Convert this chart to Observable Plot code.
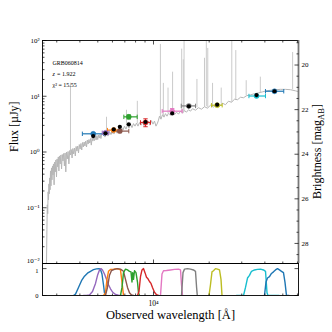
<!DOCTYPE html>
<html><head><meta charset="utf-8">
<script src="https://cdn.jsdelivr.net/npm/d3@7"></script>
<script src="https://cdn.jsdelivr.net/npm/@observablehq/plot@0.6"></script>
<style>
body{margin:0;background:#fff;}
#wrap{position:relative;width:332px;height:332px;overflow:hidden;}
#wrap svg{position:absolute;left:0;overflow:visible;}
</style></head><body><div id="wrap"></div>
<script>
// ---------- data ----------
const specWave = [2500,2641,2654,2667,2681,2694,2707,2720,2734,2747,2761,2775,2792,2810,2827,2845,2862,2880,2902,2923,2945,2967,2990,3012,3035,3058,3081,3103,3130,3157,3185,3213,3241,3270,3299,3327,3357,3386,3420,3454,3489,3524,3559,3594,3630,3666,3703,3742,3779,3817,3855,3894,3933,3972,4012,4052,4093,4134,4175,4217,4259,4301,4345,4388,4432,4477,4521,4566,4612,4658,4705,4752,4799,4847,4896,4945,4994,5044,5094,5145,5197,5249,5366,5467,5570,5675,5782,5891,6003,6116,6232,6349,6469,6591,6714,6841,6970,7101,7236,7372,7511,7652,7797,7944,8093,8245,8401,8559,8720,8884,9052,9222,9397,9573,9754,9937,10125,10316,10510,10642,10776,10978,11186,11397,11613,11831,12053,12357,12669,12988,13316,13651,13996,14349,14711,15082,15462,15852,16252,16866,17503,18174,18866,19579,20325,21100,21900,22743,23605,24503,25430,26398,27403,28453,29534,30660,31822,33447,35154,36950,38836,40818,42901,45645,48584,51700,55020,58560,62330];
const specFlux = [0.001,0.0109,0.0405,0.113,0.0781,0.193,0.139,0.268,0.178,0.343,0.21,0.458,0.247,0.518,0.316,0.562,0.388,0.611,0.2575,0.662,0.44,0.72,0.358,0.75,0.54,0.815,0.458,0.849,0.611,0.884,0.497,0.902,0.69,0.94,0.562,0.96,0.44,1.0,0.75,1.021,0.611,1.063,0.884,1.108,0.782,1.155,0.921,1.178,0.849,1.256,1.04,1.28,0.96,1.36,1.13,1.419,1.086,1.479,1.23,1.51,1.28,1.57,1.23,1.64,1.39,1.671,1.449,1.742,1.33,1.815,1.57,1.853,1.604,1.93,1.64,1.972,1.671,2.01,1.778,2.054,1.742,2.10,2.14,1.853,2.229,1.93,2.323,2.054,2.42,2.10,2.52,2.18,2.683,2.323,2.796,2.47,2.91,2.577,3.035,2.683,3.162,2.74,3.23,2.91,3.30,2.91,3.37,3.03,3.43,2.97,3.51,3.16,3.58,3.03,3.65,3.16,3.58,2.91,3.30,3.73,4.39,3.88,4.67,4.22,4.87,4.39,4.97,4.58,5.07,4.67,5.18,4.77,5.40,4.97,5.51,5.18,5.74,5.40,5.98,5.62,6.23,5.86,6.49,6.11,6.90,6.36,7.20,6.63,7.50,7.05,8.14,7.81,8.84,8.66,9.60,9.40,10.2,10.6,11.1,11.5,12.0,12.5,12.8,13.1,13.3,13.3,13.1,12.5,11.8];

const lineWave = [3559,5572,7144,8176,10900,11305,11983,12682,14204,14490,14630,17170,18866,19300,19650,20851,23230,26500,27850,31700,37800,56500];
const lineBase = [1.0,2.05,2.9,3.2,3.9,4.3,4.9,5.0,5.2,5.3,5.3,6.2,6.4,6.5,6.2,6.6,7.3,7.8,8.7,10.2,11.7,13.1];
const linePeak = [17.1,4.2,5.6,8.1,85,17,14,27,70,45,150,20,48,150,72,17,14,150,66,19,22,61];

const photColor = ["#1f77b4","#9467bd","#ff7f0e","#8c564b","#2ca02c","#d62728","#e377c2","#7f7f7f","#bcbd22","#17becf","#1f77b4"];
const photWave = [4722,5503,6097,6577,7352,9053,12624,15525,22090,36059,45100];
const photLo   = [4125,5285,5640,5981,6915,8505,11144,14124,20577,32800,40300];
const photHi   = [5386,5735,6553,7354,8164,9634,14298,16870,23513,40300,50600];
const photFlux = [2.12,2.21,2.47,2.37,4.27,3.39,5.40,6.71,6.90,10.1,12.3];
const photErr  = [0.1,0.1,0.12,0.15,0.35,0.55,0.6,0.25,0.3,0.3,0.4];
const modelFlux= [1.93,2.16,2.54,2.83,3.13,3.45,4.91,6.6,7.05,10.5,12.3];

const fBlue   = [[3694,0],[3788,0.05],[3932,0.3],[4082,0.55],[4236,0.72],[4397,0.83],[4566,0.9],[4739,0.96],[4919,0.99],[5074,1.0],[5170,0.97],[5267,0.8],[5366,0.4],[5433,0.1],[5501,0]];
const fPurple = [[4183,0],[4343,0],[4509,0.02],[4681,0.15],[4859,0.45],[4983,0.75],[5106,0.95],[5202,1.0],[5300,0.95],[5433,0.8],[5570,0.6],[5711,0.4],[5855,0.25],[6003,0.13],[6232,0.04],[6469,0.01],[6714,0]];
const fOrange = [[5366,0],[5501,0.1],[5605,0.6],[5711,0.9],[5855,0.97],[6078,0.98],[6310,1.0],[6549,0.97],[6631,0.95],[6758,0.5],[6884,0]];
const fBrown  = [[5501,0],[5640,0.3],[5782,0.75],[5929,0.93],[6153,0.97],[6389,1.0],[6631,0.98],[6884,0.9],[7058,0.6],[7236,0.3],[7418,0.1],[7605,0.02],[7797,0]];
const fGreen  = [[6631,0],[6758,0.3],[6884,0.85],[7058,0.98],[7236,0.95],[7418,0.9],[7557,0.88],[7651,0.5],[7718,0.85],[7797,0.6],[7894,0.92],[8043,0.85],[8194,0.5],[8297,0.1],[8401,0]];
const fRed    = [[8194,0],[8349,0.15],[8506,0.7],[8666,0.95],[8829,1.0],[8996,0.85],[9166,0.68],[9338,0.62],[9514,0.52],[9694,0.45],[9876,0.3],[10125,0.12],[10380,0.03],[10642,0]];
const fPink   = [[10910,0],[11116,0.8],[11327,0.92],[11755,0.93],[12357,0.95],[12988,0.97],[13651,0.98],[13996,0.95],[14171,0.4],[14350,0]];
const fGray   = [[14171,0],[14440,0.85],[14711,0.98],[15270,1.0],[15849,0.98],[16449,0.95],[16866,0.9],[17100,0.3],[17250,0]];
const fOlive  = [[19953,0],[20325,0.4],[20710,0.88],[21100,0.92],[21633,1.0],[22180,0.98],[22743,0.95],[23171,0.6],[23460,0]];
const fCyan   = [[28093,0],[30660,0],[31431,0.3],[32222,0.65],[33032,0.75],[33864,0.9],[35154,0.95],[36495,0.97],[37880,0.98],[39324,0.95],[40318,0.9],[41077,0.1],[41590,0],[47744,0]];
const fBlue2  = [[39811,0],[40563,0.5],[41326,0.65],[42364,0.7],[43427,0.82],[44522,0.88],[45645,0.95],[46796,1.0],[47975,0.95],[49185,0.9],[50424,0.85],[51372,0.5],[52340,0],[53993,0]];
const filterCurves = [fBlue,fPurple,fOrange,fBrown,fGreen,fRed,fPink,fGray,fOlive,fCyan,fBlue2];

const xDomain = [2512, 60790];
const yDomain = [0.01, 100];
const yMajorTicks = [0.01, 0.1, 1, 10, 100];
const yTickLabels = ["10⁻²","10⁻¹","10⁰","10¹","10²"];
const xMinorTicks = [3000,4000,5000,6000,7000,8000,9000,20000,30000,40000,50000,60000];
const xMajorTicks = [10000];
const xTickLabels = ["10⁴"];
const magTicks = [20,22,24,26,28];
const transTicks = [0, 1];
const ABzero = 23.9;

// ---------- derived tables ----------
const spec = specWave.map((w,i)=>({w, f: specFlux[i]}));
const lines = lineWave.map((w,i)=>({w, b: lineBase[i], p: linePeak[i]}));
const phot = photWave.map((w,i)=>({w, lo: photLo[i], hi: photHi[i], f: photFlux[i], e: photErr[i], m: modelFlux[i], c: photColor[i]}));
const yLab = yMajorTicks.map((v,i)=>({v, t: yTickLabels[i]}));
const yMinorTicks = [];
for (const d of [0.01,0.1,1,10]) for (let k=2;k<=9;k++) yMinorTicks.push(d*k);
const magToFlux = m => Math.pow(10, (ABzero - m)/2.5);
const magMinor = [];
for (let m=19; m<=28.5; m+=0.5) if (!magTicks.includes(m)) magMinor.push(m);

const tk = (dx, dy) => ({draw(c){ c.moveTo(0,0); c.lineTo(dx,dy); }});
const capV = {draw(c){ c.moveTo(0,-2.2); c.lineTo(0,2.2); }};
const capH = {draw(c){ c.moveTo(-2.2,0); c.lineTo(2.2,0); }};
const ticksY = (vals, at, dx) => Plot.dot(vals, {x: ()=>at, y: d=>d, symbol: tk(dx,0), fill:"none", stroke:"black", strokeWidth:0.7});
const ticksX = (vals, at, dy) => Plot.dot(vals, {x: d=>d, y: ()=>at, symbol: tk(0,dy), fill:"none", stroke:"black", strokeWidth:0.7});
const FONT = "'Liberation Serif', 'DejaVu Serif', serif";
const TXT = {fill: "black", stroke: "none"};

// ---------- main panel ----------
const main = Plot.plot({
  width: 332, height: 264,
  marginTop: 40, marginBottom: 1, marginLeft: 42, marginRight: 34,
  style: {fontFamily: FONT, background: "transparent", color: "black"},
  x: {type: "log", domain: xDomain, axis: null},
  y: {type: "log", domain: yDomain, axis: null},
  marks: [
    Plot.ruleX(lines, {x: "w", y1: "b", y2: "p", stroke: "#c4c4c4", strokeWidth: 0.9, clip: true}),
    Plot.line(spec, {x: "w", y: "f", stroke: "#b6b6b6", strokeWidth: 1, clip: true}),
    Plot.link(phot, {x1: "lo", x2: "hi", y1: "f", y2: "f", stroke: "c", strokeWidth: 1.2}),
    Plot.link(phot, {x1: "w", x2: "w", y1: d=>d.f-d.e, y2: d=>d.f+d.e, stroke: "c", strokeWidth: 1.2}),
    Plot.dot(phot, {x: "lo", y: "f", symbol: capV, fill: "none", stroke: "c", strokeWidth: 1}),
    Plot.dot(phot, {x: "hi", y: "f", symbol: capV, fill: "none", stroke: "c", strokeWidth: 1}),
    Plot.dot(phot, {x: "w", y: d=>d.f-d.e, symbol: capH, fill: "none", stroke: "c", strokeWidth: 1}),
    Plot.dot(phot, {x: "w", y: d=>d.f+d.e, symbol: capH, fill: "none", stroke: "c", strokeWidth: 1}),
    Plot.dot(phot, {x: "w", y: "f", r: 2.5, fill: "c", stroke: "c", strokeWidth: 0.5}),
    Plot.dot(phot, {x: "w", y: "m", r: 2.1, fill: "black", stroke: "none"}),
    Plot.frame({stroke: "black", strokeWidth: 0.9}),
    Plot.ruleX([xDomain[1]], {stroke: "#777", strokeWidth: 1.8}),
    ticksY(yMajorTicks, xDomain[0], 4),
    ticksY(yMinorTicks, xDomain[0], 2),
    ticksY(magTicks.map(magToFlux), xDomain[1], -4),
    ticksY(magMinor.map(magToFlux), xDomain[1], -2),
    ticksX(xMajorTicks, yDomain[1], 4),
    ticksX(xMinorTicks, yDomain[1], 2),
    ticksX(xMajorTicks, yDomain[0], -4),
    ticksX(xMinorTicks, yDomain[0], -2),
    // tick labels (lowest one nudged up to clear the lower panel's label)
    Plot.text(yLab.slice(1), {...TXT, x: ()=>xDomain[0], y: "v", text: "t", dx: -3, textAnchor: "end", fontSize: 7}),
    Plot.text(yLab.slice(0,1), {...TXT, x: ()=>xDomain[0], y: "v", text: "t", dx: -3, dy: -2.5, textAnchor: "end", fontSize: 7}),
    Plot.text(magTicks, {...TXT, x: ()=>xDomain[1], y: m=>magToFlux(m), text: m=>String(m), dx: 3, textAnchor: "start", fontSize: 7}),
    // axis label & annotations
    Plot.text(["Flux [µJy]"], {...TXT, text: d=>d, frameAnchor: "left", dx: -28, rotate: -90, fontSize: 12}),
    Plot.text(["GRB060814"], {...TXT, text: d=>d, frameAnchor: "top-left", dx: 10, dy: 20, textAnchor: "start", fontSize: 6}),
    Plot.text(["z"], {...TXT, text: d=>d, frameAnchor: "top-left", dx: 10, dy: 31.5, textAnchor: "start", fontSize: 6, fontStyle: "italic"}),
    Plot.text(["= 1.922"], {...TXT, text: d=>d, frameAnchor: "top-left", dx: 14.5, dy: 31.5, textAnchor: "start", fontSize: 6}),
    Plot.text(["χ² = 15.55"], {...TXT, text: d=>d, frameAnchor: "top-left", dx: 10, dy: 42.5, textAnchor: "start", fontSize: 6})
  ]
});

// ---------- filter panel ----------
const filt = [];
filterCurves.forEach((pts, i) => pts.forEach(p => filt.push({w: p[0], t: p[1], k: i, c: photColor[i]})));
const bottom = Plot.plot({
  width: 332, height: 69,
  marginTop: 0, marginBottom: 37, marginLeft: 42, marginRight: 34,
  style: {fontFamily: FONT, background: "transparent", color: "black"},
  x: {type: "log", domain: xDomain, axis: null},
  y: {domain: [0, 1.19], axis: null},
  marks: [
    Plot.line(filt, {x: "w", y: "t", z: "k", stroke: "c", strokeWidth: 1.4, clip: true}),
    Plot.frame({stroke: "black", strokeWidth: 0.9}),
    Plot.ruleY([1.19], {stroke: "black", strokeWidth: 1}),
    ticksY(transTicks, xDomain[0], 4),
    ticksY(transTicks, xDomain[1], -4),
    ticksX(xMajorTicks, 0, -4),
    ticksX(xMinorTicks, 0, -2),
    Plot.text(transTicks.slice(0,1), {...TXT, x: ()=>xDomain[0], y: d=>d, text: d=>String(d), dx: -4, textAnchor: "end", fontSize: 6.5}),
    Plot.text(transTicks.slice(1), {...TXT, x: ()=>xDomain[0], y: d=>d, text: d=>String(d), dx: -4, dy: 2, textAnchor: "end", fontSize: 6.5}),
    Plot.text(xMajorTicks, {...TXT, x: d=>d, y: ()=>0, text: (d,i)=>xTickLabels[i], dy: 8, fontSize: 7.5}),
    Plot.text(["Observed wavelength [Å]"], {...TXT, text: d=>d, frameAnchor: "bottom", dy: 23, fontSize: 12.5})
  ]
});

main.style.top = "0px";
bottom.style.top = "263px";
const wrap = document.getElementById("wrap");
wrap.append(main, bottom);

// right-hand axis label with subscript
const lab = d3.select(main).append("text")
  .attr("transform", "translate(321,151.5) rotate(-90)")
  .attr("text-anchor", "middle")
  .attr("font-family", FONT.replace(/'/g, ""))
  .attr("font-size", 12)
  .attr("fill", "black");
lab.append("tspan").text("Brightness [mag");
lab.append("tspan").attr("dy", 2.5).attr("font-size", 8.5).text("AB");
lab.append("tspan").attr("dy", -2.5).text("]");
</script></body></html>
